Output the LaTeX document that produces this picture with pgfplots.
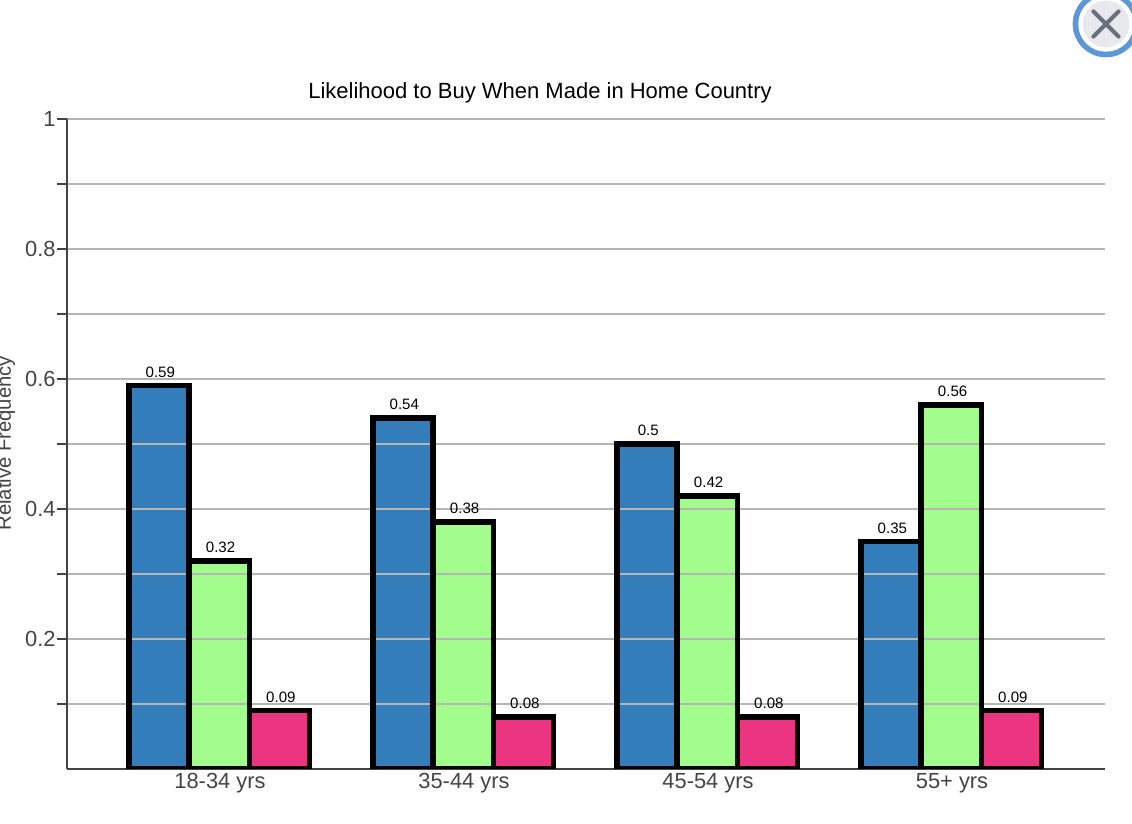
\documentclass[border=0pt]{standalone}
\usepackage{pgfplots}
\usepackage{pgfplotstable}
\pgfplotsset{compat=1.18}
\usepackage{fontspec}
\setmainfont{Liberation Sans}
\definecolor{cblue}{HTML}{337EBA}
\definecolor{cgreen}{HTML}{A2FD8D}
\definecolor{cpink}{HTML}{EC3580}
\definecolor{axisc}{HTML}{444444}
\definecolor{gridc}{HTML}{B5B5B5}
\definecolor{ringc}{HTML}{5E97D6}
\definecolor{btnc}{HTML}{E8E9ED}
\definecolor{xc}{HTML}{68717B}
\pgfplotstableread{
x blue green pink
0 0.59 0.32 0.09
1 0.54 0.38 0.08
2 0.50 0.42 0.08
3 0.35 0.56 0.09
}\datatable
\pgfplotsset{
  common/.style={
    at={(50.25pt,41.25pt)}, anchor=south west,
    scale only axis, width=778.5pt, height=487.5pt,
    xmin=-0.627, xmax=3.627, ymin=0, ymax=1,
    ybar, bar width=0.247,
  }
}
\begin{document}
\begin{tikzpicture}
% bar fills, under the grid
\begin{axis}[common, hide axis, clip=false]
\addplot[draw=none, fill=cblue, bar shift=-0.25] table[x=x,y=blue] {\datatable};
\addplot[draw=none, fill=cgreen, bar shift=-0.003] table[x=x,y=green] {\datatable};
\addplot[draw=none, fill=cpink, bar shift=0.244] table[x=x,y=pink] {\datatable};
\end{axis}
% axis, grid, labels
\begin{axis}[common,
  axis lines=left, axis line style={draw=axisc, line width=1.1pt, -},
  xtick={0,1,2,3}, xticklabels={18-34 yrs,35-44 yrs,45-54 yrs,55+ yrs},
  xtick style={draw=none},
  ytick={0.1,0.2,0.3,0.4,0.5,0.6,0.7,0.8,0.9,1},
  yticklabels={,0.2,,0.4,,0.6,,0.8,,1},
  ytick style={draw=axisc, line width=1.1pt},
  tick align=outside, major tick length=7.5pt,
  ymajorgrids, grid style={draw=gridc, line width=1.1pt},
  tick label style={font=\fontsize{16.4pt}{18pt}\selectfont, text=axisc},
  x tick label style={anchor=base, yshift=-7.5pt},
  y tick label style={xshift=2.5pt},
  title={Likelihood to Buy When Made in Home Country},
  title style={font=\fontsize{16.5pt}{20pt}\selectfont, at={(axis description cs:0.4557,1)}, anchor=base, yshift=9pt},
  ylabel={Relative Frequency},
  every axis y label/.style={at={(axis description cs:0,0.5)}, anchor=base, rotate=90, xshift=0.5pt, yshift=42pt, font=\fontsize{15.2pt}{18pt}\selectfont, text=axisc},
]
\end{axis}
% bar outlines with open bottoms, and value labels
\begin{axis}[common, clip=true, ymin=0.01, ymax=1.01,
  axis line style={draw=none}, xtick=\empty, ytick=\empty,
  /pgf/number format/assume math mode=true,
  /pgf/number format/fixed, /pgf/number format/precision=2,
  point meta=explicit,
  barline/.style={draw=black, line width=4pt, fill=none,
    nodes near coords, nodes near coords style={font=\fontsize{11.3pt}{12pt}\selectfont, text=black, anchor=base, yshift=6pt, xshift=1pt, inner sep=0pt}},
]
\addplot[barline, bar shift=-0.25] table[x=x,y expr=\thisrow{blue}+0.01,meta=blue] {\datatable};
\addplot[barline, bar shift=-0.003] table[x=x,y expr=\thisrow{green}+0.01,meta=green] {\datatable};
\addplot[barline, bar shift=0.244] table[x=x,y expr=\thisrow{pink}+0.01,meta=pink] {\datatable};
\end{axis}
% close button
\fill[ringc] (829.5pt,600pt) circle (25pt);
\fill[white] (829.5pt,600pt) circle (20.8pt);
\fill[btnc] (829.5pt,600pt) circle (17.5pt);
\draw[xc, line width=3pt, line cap=round] (820pt,609.5pt) -- (839pt,590.5pt) (820pt,590.5pt) -- (839pt,609.5pt);
\pgfresetboundingbox
\path[use as bounding box] (0,0) rectangle (849pt,618pt);
\end{tikzpicture}
\end{document}
